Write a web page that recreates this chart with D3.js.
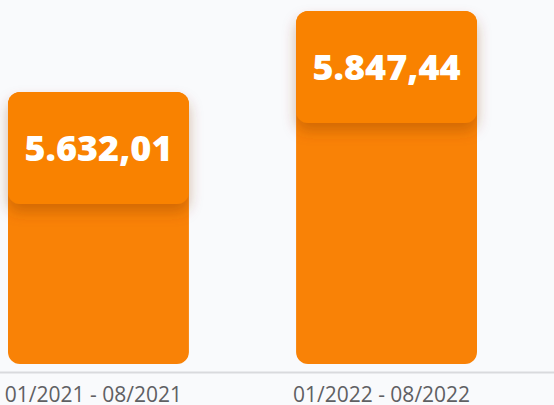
<!DOCTYPE html>
<html>
<head>
<meta charset="utf-8">
<script src="https://cdn.jsdelivr.net/npm/d3@7"></script>
<style>
  html, body { margin: 0; padding: 0; background: #f9fafc; }
  svg { display: block; }
</style>
</head>
<body>
<svg id="chart" width="554" height="405"></svg>
<script>
const periods = ["01/2021 - 08/2021", "01/2022 - 08/2022"];
const totals = [5632.01, 5847.44];
const yMin = 4908;

const svg = d3.select("#chart"),
      width = +svg.attr("width"),
      height = +svg.attr("height"),
      margin = {top: 11, right: 77, bottom: 41, left: 8};

const x = d3.scaleBand()
    .domain(periods)
    .range([margin.left, width - margin.right])
    .paddingInner(0.372)
    .paddingOuter(0);

const y = d3.scaleLinear()
    .domain([yMin, d3.max(totals)])
    .range([height - margin.bottom, margin.top]);

const fmt = d3.formatLocale({decimal: ",", thousands: ".", grouping: [3], currency: ["", ""]}).format(",.2f");

const defs = svg.append("defs");
const shadow = defs.append("filter")
    .attr("id", "shadow")
    .attr("x", "-20%").attr("y", "-20%")
    .attr("width", "140%").attr("height", "160%");
shadow.append("feDropShadow")
    .attr("dx", 0).attr("dy", 8)
    .attr("stdDeviation", 7)
    .attr("flood-color", "#8a3a00")
    .attr("flood-opacity", 0.35);

const data = periods.map((p, i) => ({period: p, value: totals[i]}));
const boxH = 112;

const bars = svg.append("g").selectAll("g")
    .data(data)
    .join("g");

bars.append("rect")
    .attr("x", d => x(d.period))
    .attr("y", d => y(d.value))
    .attr("width", x.bandwidth())
    .attr("height", d => y(yMin) - y(d.value))
    .attr("rx", 12)
    .attr("fill", "#f98206");

// value box on top of each bar
bars.append("rect")
    .attr("x", d => x(d.period))
    .attr("y", d => y(d.value))
    .attr("width", x.bandwidth())
    .attr("height", boxH)
    .attr("rx", 12)
    .attr("fill", "#f98206")
    .attr("filter", "url(#shadow)");

bars.append("text")
    .attr("x", d => x(d.period) + x.bandwidth() / 2)
    .attr("y", d => y(d.value) + boxH / 2)
    .attr("dy", "0.36em")
    .attr("text-anchor", "middle")
    .attr("fill", "#fff")
    .style("font-family", "'Open Sans', sans-serif")
    .style("font-weight", 800)
    .style("font-size", "36px")
    .text(d => fmt(d.value));

// baseline
svg.append("line")
    .attr("x1", 0).attr("x2", width)
    .attr("y1", height - margin.bottom + 8.5)
    .attr("y2", height - margin.bottom + 8.5)
    .attr("stroke", "#d9dadd")
    .attr("stroke-width", 2);

svg.append("g").selectAll("text")
    .data(data)
    .join("text")
    .attr("x", d => x(d.period) + x.bandwidth() / 2 - 5)
    .attr("y", height - 3)
    .attr("text-anchor", "middle")
    .attr("fill", "#5f6063")
    .style("font-family", "'Open Sans', sans-serif")
    .style("font-size", "21px")
    .text(d => d.period);
</script>
</body>
</html>
